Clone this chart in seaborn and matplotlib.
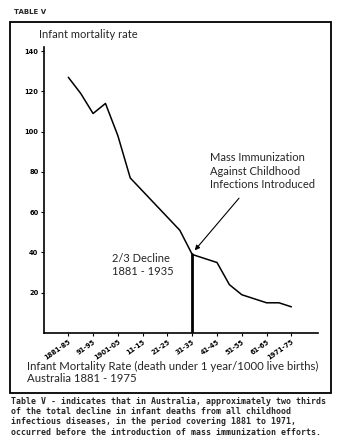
import seaborn as sns
import matplotlib.pyplot as plt
import matplotlib.patches as patches
import pandas as pd

years = [1883, 1888, 1893, 1898, 1903, 1908, 1918, 1928, 1933,
         1943, 1948, 1953, 1963, 1968, 1973]
rate = [127, 119, 109, 114, 98, 77, 64, 51, 39, 35, 24, 19, 15, 15, 13]
tick_years = [1883, 1893, 1903, 1913, 1923, 1933, 1943, 1953, 1963, 1973]
tick_labels = ["1881-85", "91-95", "1901-05", "11-15", "21-25",
               "31-35", "41-45", "51-55", "61-65", "1971-75"]
y_ticks = [20, 40, 60, 80, 100, 120, 140]
immun_year = 1933
immun_rate = 39

df = pd.DataFrame({"year": years, "rate": rate})

sns.set_theme(style="ticks")
plt.rcParams["font.family"] = ["Lato", "DejaVu Sans"]

fig = plt.figure(figsize=(3.53, 4.44), dpi=100)
ax = fig.add_axes([0.1246, 0.25, 0.776, 0.644])

sns.lineplot(data=df, x="year", y="rate", color="black", lw=1.1, ax=ax)
# vertical divider at 1931-35
ax.plot([immun_year, immun_year], [0, immun_rate], color="black", lw=2)

ax.set_xlim(1873.2, 1983.7)
ax.set_ylim(0, 142)
ax.set_xticks(tick_years)
ax.set_xticklabels(tick_labels, rotation=35, ha="right", rotation_mode="anchor",
                   fontsize=4.8, fontweight="bold", family="DejaVu Sans")
ax.set_yticks(y_ticks)
ax.set_yticklabels([str(v) for v in y_ticks], fontsize=4.8, fontweight="bold",
                   family="DejaVu Sans")
ax.tick_params(length=2.5, width=0.8, pad=1.5, colors="black")
ax.set_xlabel("")
ax.set_ylabel("")
for s in ["top", "right"]:
    ax.spines[s].set_visible(False)
for s in ["left", "bottom"]:
    ax.spines[s].set_linewidth(1.2)
    ax.spines[s].set_color("black")

ax.annotate("", xy=(immun_year + 0.3, immun_rate + 1), xytext=(1952.6, 68),
            arrowprops=dict(arrowstyle="-|>", color="black", lw=0.8,
                            mutation_scale=7))

fig.text(210 / 353, 1 - 152 / 444,
         "Mass Immunization\nAgainst Childhood\nInfections Introduced",
         fontsize=8, va="top", ha="left", linespacing=1.28)
fig.text(112 / 353, 1 - 253 / 444, "2/3 Decline\n1881 - 1935",
         fontsize=8, va="top", ha="left", linespacing=1.2)
fig.text(39 / 353, 1 - 29 / 444, "Infant mortality rate",
         fontsize=8, va="top", ha="left")
fig.text(27 / 353, 1 - 361 / 444,
         "Infant Mortality Rate (death under 1 year/1000 live births)\nAustralia 1881 - 1975",
         fontsize=8.2, va="top", ha="left", linespacing=1.1)
fig.text(14 / 353, 1 - 9 / 444, "TABLE V", fontsize=5, fontweight="bold",
         va="top", ha="left", family="DejaVu Sans")

# outer frame
fig.add_artist(patches.Rectangle((10 / 353, 51 / 444), 321 / 353, 371 / 444,
                                 transform=fig.transFigure, fill=False,
                                 edgecolor="black", lw=1.3))

note = ("Table V - indicates that in Australia, approximately two thirds\n"
        "of the total decline in infant deaths from all childhood\n"
        "infectious diseases, in the period covering 1881 to 1971,\n"
        "occurred before the introduction of mass immunization efforts.")
fig.text(11 / 353, 1 - 397 / 444, note, fontsize=5.95, family="DejaVu Sans Mono",
         fontweight="bold", va="top", ha="left", linespacing=1.17)

fig.savefig("out.png", dpi=100)
